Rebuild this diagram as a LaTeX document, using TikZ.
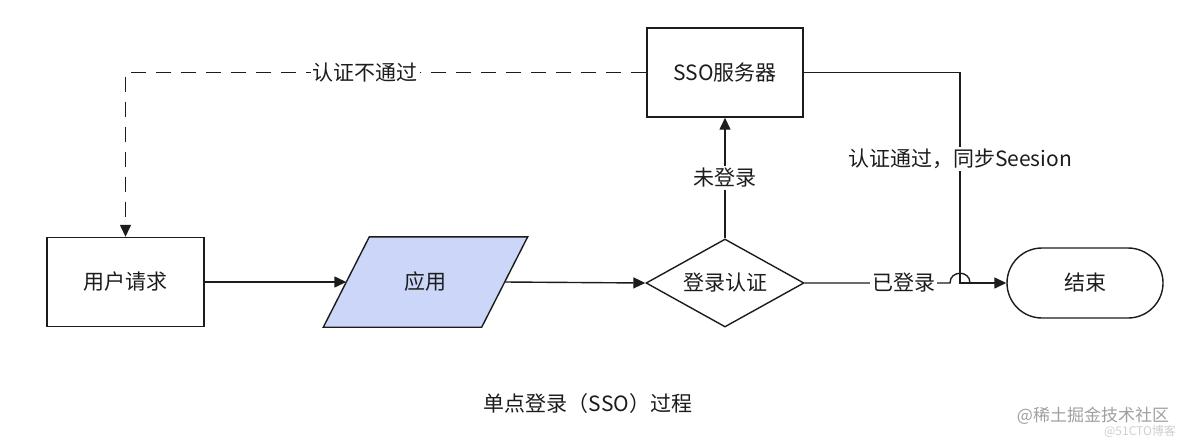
\documentclass[tikz,border=0pt]{standalone}
\usepackage{fontspec}
\setmainfont{Noto Sans CJK SC}
\usetikzlibrary{arrows.meta,shapes.geometric,backgrounds,calc}
\definecolor{ink}{HTML}{1C1C1C}
\definecolor{appfill}{HTML}{CCD6F8}
\definecolor{wm}{HTML}{A0A0A0}
\definecolor{wmb}{HTML}{CFCFCF}
\begin{document}
\begin{tikzpicture}[x=1pt,y=-1pt,
  font=\fontsize{21}{25}\selectfont, text=ink, line width=1.4pt, draw=ink,
  box/.style={draw=ink, line width=1.4pt, minimum width=157pt, minimum height=89pt, inner sep=0pt},
  appbox/.style={minimum width=157pt, minimum height=89pt, inner sep=0pt},
  dia/.style={diamond, draw=ink, line width=1.4pt, minimum width=158pt, minimum height=88pt, inner sep=0pt, aspect=1.8},
  term/.style={draw=ink, line width=1.4pt, rounded corners=35pt, minimum width=156pt, minimum height=70pt, inner sep=0pt},
  lbl/.style={fill=white, inner sep=2pt},
  arr/.style={draw=ink, -{Triangle[length=12pt,width=11pt]}},
  dashline/.style={dash pattern=on 15pt off 10pt}
]
\useasboundingbox (0,0) rectangle (1190,444);

\node[box] (user) at (125.5,282) {用户请求};
\node[appbox] (app) at (425.5,282) {应用};
\begin{scope}[on background layer]
  \fill[white] (0,0) rectangle (1190,444);
  \draw[draw=ink, fill=appfill, line width=1.4pt]
    ($(app.north west)+(23,0)$) -- ($(app.north east)+(23,0)$) --
    ($(app.south east)+(-23,0)$) -- ($(app.south west)+(-23,0)$) -- cycle;
\end{scope}
\node[dia] (login) at (725,283) {登录认证};
\node[box, minimum width=156pt] (sso) at (725,72.5) {SSO服务器};
\node[term] (end) at (1085,283) {结束};
\coordinate (jx) at (960,283);

\draw[arr] (user.east) -- (app.west);
\draw[arr] (app.east) -- (login.west);
\draw[arr] (login.north) -- node[lbl]{未登录} (sso.south);
\draw[arr] (sso.east) -- (sso.east -| jx) -- node[lbl, pos=0.41]{认证通过，同步Seesion} (jx) -- (end.west);
\draw[arr, dashline] (sso.west) -- node[lbl, pos=0.54]{认证不通过} (sso.west -| user.north) -- (user.north);
\draw (login.east) -- node[lbl, pos=0.68]{已登录} ($(jx)+(-10,0)$)
  .. controls ($(jx)+(-10,-13)$) and ($(jx)+(10,-13)$) .. ($(jx)+(10,0)$);

\node (cap) at (588,404) {单点登录（SSO）过程};
\node[text=wm, font=\fontsize{17}{20}\selectfont] (wm1) at (1093,416) {@稀土掘金技术社区};
\node[text=wmb, font=\fontsize{12}{14}\selectfont] (wm2) at (1140,431) {@51CTO博客};
\end{tikzpicture}
\end{document}
